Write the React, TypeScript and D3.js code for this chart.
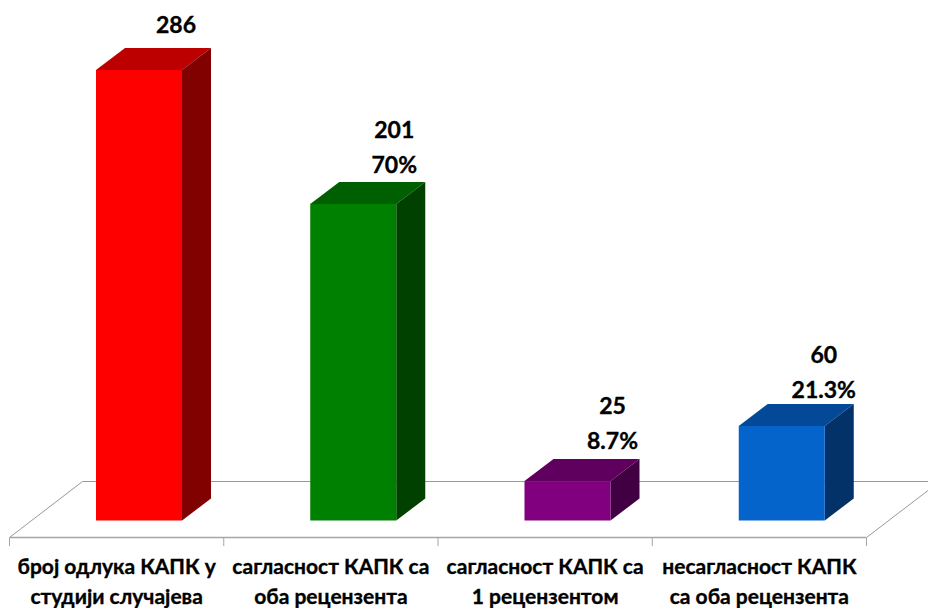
import React from "react";
import * as d3 from "d3";

const categories = [
  ["број одлука КАПК у", "студији случајева"],
  ["сагласност КАПК са", "оба рецензента"],
  ["сагласност КАПК са", "1 рецензентом"],
  ["несагласност КАПК", "са оба рецензента"],
];
const counts = [286, 201, 25, 60];
const percents = ["", "70%", "8.7%", "21.3%"];
const frontColors = ["#ff0000", "#008000", "#800080", "#0563cc"];
const labelShift = [-4, 0, 4, 1];
const labelLift = [0, 0, 1, -3];

const W = 928, H = 608;
const axisY = 537.5, tickEnd = 546, wallY = 481.5;
const depthX = 29, depthY = 22;
const floorDX = 73, floorDY = 56;
const baseY = 520.5;
const barW = 86, barOffset = 86.5;
const FONT = "Lato, Carlito, Calibri, 'Open Sans', sans-serif";

export default function App() {
  const x = d3.scaleBand<number>().domain(d3.range(categories.length)).range([9.5, 866.5]);
  const y = d3.scaleLinear().domain([0, 286]).range([baseY, 70]);
  const left = x.range()[0], right = x.range()[1];
  const grey = "#a6a6a6";
  return (
    <svg width={W} height={H} viewBox={`0 0 ${W} ${H}`}
      style={{ position: "fixed", left: 0, top: 0, display: "block", background: "#fff" }}>
      <path d={`M${left},${axisY}L${left + floorDX},${wallY}L${W},${wallY}`} fill="none" stroke="#999" strokeWidth={1} />
      <path d={`M${right},${axisY}L${W},${axisY - 47}`} fill="none" stroke="#999" strokeWidth={1} />
      <line x1={left} x2={right} y1={axisY} y2={axisY} stroke={grey} strokeWidth={1.5} />
      {d3.range(categories.length + 1).map((i) => {
        const tx = left + i * x.step();
        return <line key={i} x1={tx} x2={tx} y1={axisY} y2={tickEnd} stroke={grey} strokeWidth={1} />;
      })}
      {counts.map((v, i) => {
        const x0 = (x(i) as number) + barOffset, x1 = x0 + barW, t = y(v);
        const c = d3.color(frontColors[i])!;
        const top = c.darker(0.85).formatHex();
        const side = c.darker(1.9).formatHex();
        return (
          <g key={i}>
            <path d={`M${x0},${t}L${x0 + depthX},${t - depthY}H${x1 + depthX}L${x1},${t}Z`} fill={top} />
            <path d={`M${x1},${t}L${x1 + depthX},${t - depthY}V${baseY - depthY}L${x1},${baseY}Z`} fill={side} />
            <rect x={x0} y={t} width={barW} height={baseY - t} fill={frontColors[i]} />
          </g>
        );
      })}
      <g fontFamily={FONT} fontWeight={700} fill="#000" stroke="#000" strokeWidth={0.35} textAnchor="middle">
        {counts.map((v, i) => {
          const cx = (x(i) as number) + barOffset + 84 + labelShift[i];
          const t = y(v) - labelLift[i];
          const hasPct = percents[i] !== "";
          return (
            <g key={i} fontSize={23}>
              <text x={cx} y={hasPct ? t - 66 : t - 37}>{v}</text>
              {hasPct && <text x={cx} y={t - 31}>{percents[i]}</text>}
            </g>
          );
        })}
        {categories.map((lines, i) => (
          <g key={i} fontSize={21}>
            {lines.map((s, j) => (
              <text key={j} x={(x(i) as number) + x.bandwidth() / 2} y={574 + j * 30}>{s}</text>
            ))}
          </g>
        ))}
      </g>
    </svg>
  );
}
